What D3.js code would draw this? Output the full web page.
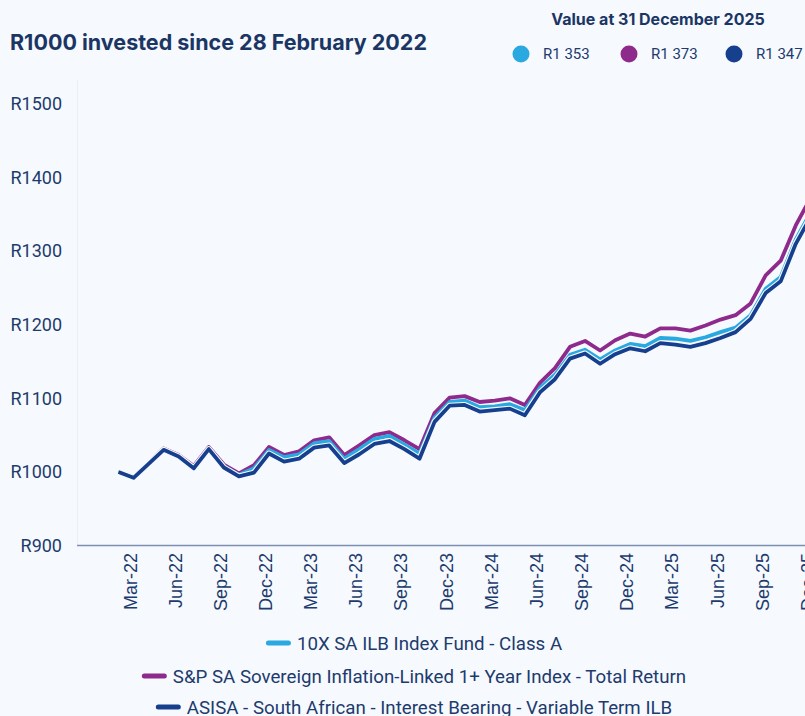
<!DOCTYPE html>
<html>
<head>
<meta charset="utf-8">
<script src="https://cdn.jsdelivr.net/npm/d3@7"></script>
<style>
  html, body { margin: 0; padding: 0; background: #f6f9fe; }
  svg { display: block; }
</style>
</head>
<body>
<div id="chart"></div>
<script>
// month-end values, Feb-22 .. Dec-25
var months = d3.utcMonth.range(new Date(Date.UTC(2022, 1, 1)), new Date(Date.UTC(2026, 0, 1)))
  .map(d3.utcFormat("%b-%y"));

var fund = [1000, 993, 1012, 1031, 1022, 1006, 1032, 1008, 996, 1005, 1030, 1020,
  1024, 1039, 1042, 1018, 1031, 1045, 1049, 1037, 1025, 1074, 1095, 1097,
  1088, 1089, 1092, 1084, 1114, 1132, 1159, 1166, 1153, 1165, 1174, 1171,
  1182, 1181, 1178, 1183, 1190, 1196, 1213, 1249, 1265, 1316, 1353];

var index = [1000, 993, 1012, 1032, 1023, 1008, 1034, 1010, 998, 1009, 1034, 1023,
  1028, 1043, 1047, 1023, 1036, 1050, 1054, 1043, 1031, 1080, 1101, 1103,
  1095, 1097, 1100, 1091, 1121, 1141, 1170, 1178, 1165, 1179, 1188, 1184,
  1195, 1195, 1192, 1199, 1207, 1213, 1229, 1267, 1287, 1335, 1373];

var sector = [1000, 992, 1011, 1030, 1021, 1005, 1031, 1006, 994, 999, 1025, 1014,
  1018, 1033, 1036, 1012, 1024, 1038, 1042, 1031, 1018, 1068, 1090, 1091,
  1082, 1084, 1086, 1077, 1108, 1126, 1154, 1161, 1147, 1160, 1168, 1164,
  1175, 1173, 1170, 1175, 1182, 1190, 1208, 1243, 1259, 1310, 1347];

var seriesNames = [
  "10X SA ILB Index Fund - Class A",
  "S&P SA Sovereign Inflation-Linked 1+ Year Index - Total Return",
  "ASISA - South African - Interest Bearing - Variable Term ILB"
];
var finalLabels = ["R1 353", "R1 373", "R1 347"];
var colors = ["#2aa8e0", "#8e2a8c", "#163f8e"];
var yTicks = [900, 1000, 1100, 1200, 1300, 1400, 1500];

var width = 805, height = 716;
var textColor = "#1d3b6d";

var svg = d3.select("#chart").append("svg")
  .attr("width", width)
  .attr("height", height);

svg.append("rect")
  .attr("width", width)
  .attr("height", height)
  .attr("fill", "#f6f9fe");

var x = d3.scalePoint()
  .domain(months)
  .range([118.5, 118.5 + (months.length - 1) * 15.05]);

var y = d3.scaleLinear()
  .domain([900, 1500])
  .range([545.5, 104]);

// title
svg.append("text")
  .attr("x", 10)
  .attr("y", 50)
  .attr("fill", "#1b3664")
  .style("font-family", "Inter, 'Noto Sans', sans-serif")
  .style("font-weight", 700)
  .style("font-size", "21.5px")
  .text("R1000 invested since 28 February 2022");

// top legend with closing values
svg.append("text")
  .attr("x", 658)
  .attr("y", 25)
  .attr("text-anchor", "middle")
  .attr("fill", "#1b3664")
  .style("font-family", "Inter, 'Noto Sans', sans-serif")
  .style("font-weight", 700)
  .style("font-size", "16px")
  .text("Value at 31 December 2025");

var dotX = [521, 629, 734];
var topLeg = svg.selectAll(".top-leg")
  .data(finalLabels)
  .enter().append("g")
  .attr("class", "top-leg")
  .attr("transform", function(d, i) { return "translate(" + dotX[i] + ",54)"; });

topLeg.append("circle")
  .attr("r", 8.5)
  .attr("fill", function(d, i) { return colors[i]; });

topLeg.append("text")
  .attr("x", 22)
  .attr("dy", "0.35em")
  .attr("fill", textColor)
  .style("font-family", "Roboto, sans-serif")
  .style("font-size", "15px")
  .text(function(d) { return d; });

// faint plot edge
svg.append("line")
  .attr("x1", 77.5).attr("x2", 77.5)
  .attr("y1", 80).attr("y2", y(900))
  .attr("stroke", "#eaeef5");

// y axis labels
svg.selectAll(".ylab")
  .data(yTicks)
  .enter().append("text")
  .attr("class", "ylab")
  .attr("x", 62)
  .attr("y", function(d) { return y(d); })
  .attr("dy", "0.35em")
  .attr("text-anchor", "end")
  .attr("fill", textColor)
  .style("font-family", "Roboto, sans-serif")
  .style("font-size", "18px")
  .text(function(d) { return "R" + d; });

// x axis line
svg.append("line")
  .attr("x1", 77).attr("x2", width)
  .attr("y1", y(900)).attr("y2", y(900))
  .attr("stroke", "#7d90b2")
  .attr("stroke-width", 1.5);

// x axis labels, quarterly
var tickMonths = months.filter(function(d, i) { return i % 3 === 1; });
svg.selectAll(".xlab")
  .data(tickMonths)
  .enter().append("text")
  .attr("class", "xlab")
  .attr("transform", function(d) { return "translate(" + x(d) + ",553)rotate(-90)"; })
  .attr("dy", 3)
  .attr("text-anchor", "end")
  .attr("fill", textColor)
  .style("font-family", "'Liberation Sans', Arial, sans-serif")
  .style("font-size", "18px")
  .text(function(d) { return d; });

// lines
var line = d3.line()
  .x(function(d, i) { return x(months[i]); })
  .y(function(d) { return y(d); });

var allSeries = [fund, index, sector];
var drawOrder = [1, 0, 2];
drawOrder.forEach(function(k) {
  if (k === 2) {
    svg.append("path")
      .attr("d", line(allSeries[k]))
      .attr("fill", "none")
      .attr("stroke", "#f6f9fe")
      .attr("stroke-width", 6)
      .attr("stroke-linejoin", "round");
  }
  svg.append("path")
    .attr("d", line(allSeries[k]))
    .attr("fill", "none")
    .attr("stroke", colors[k])
    .attr("stroke-width", 3.8)
    .attr("stroke-linejoin", "round");
});

// bottom legend
var rowY = [643, 676, 707];
var cx = 414;
seriesNames.forEach(function(name, i) {
  var g = svg.append("g");
  var t = g.append("text")
    .attr("y", rowY[i])
    .attr("dy", "0.35em")
    .attr("fill", textColor)
    .style("font-family", "Roboto, sans-serif")
    .style("font-size", "18.7px")
    .text(name);
  var tw = t.node().getComputedTextLength();
  var total = 25 + 6 + tw;
  var x0 = cx - total / 2;
  g.append("line")
    .attr("x1", x0 + 2.5).attr("x2", x0 + 22.5)
    .attr("y1", rowY[i]).attr("y2", rowY[i])
    .attr("stroke", colors[i])
    .attr("stroke-width", 5)
    .attr("stroke-linecap", "round");
  t.attr("x", x0 + 31);
});
</script>
</body>
</html>
